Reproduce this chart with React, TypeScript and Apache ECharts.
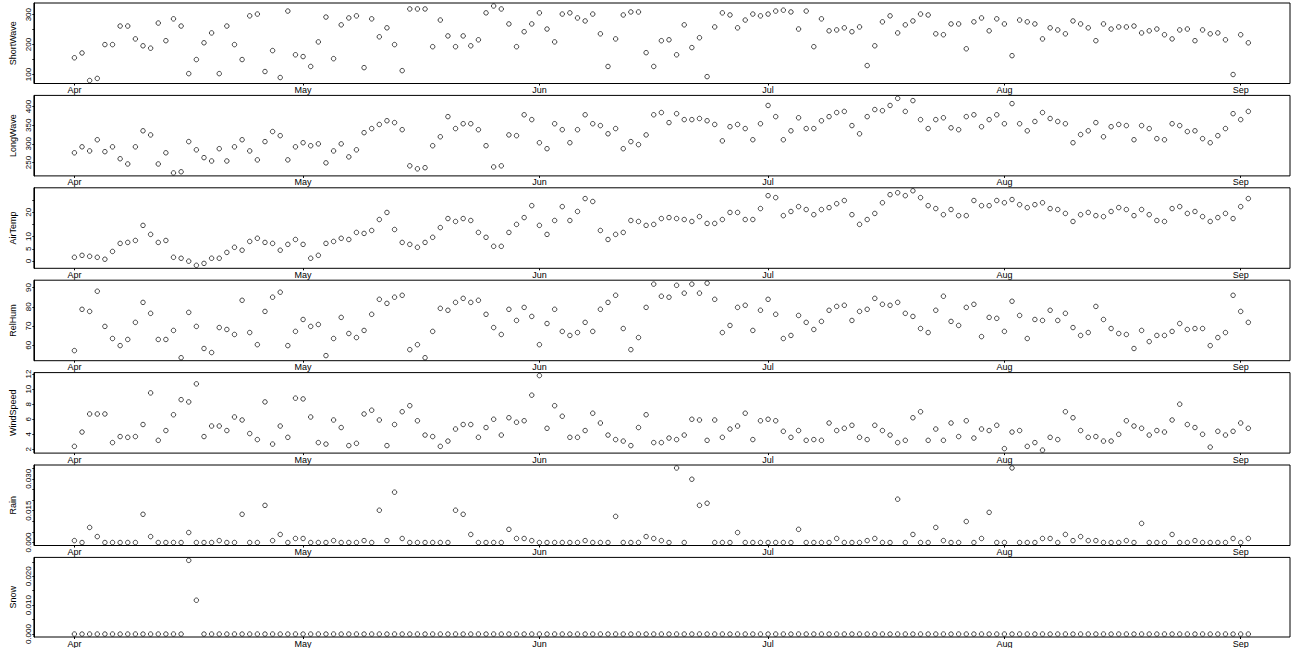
import React, { useEffect, useRef } from "react";
import * as echarts from "echarts";

// Daily observations, 1 Apr .. 2 Sep (155 days)
const startYear = 2000;
const startMonth = 3; // April (0-based)
const startDay = 1;
const dayCount = 155;
const monthNames = ["Jan", "Feb", "Mar", "Apr", "May", "Jun", "Jul", "Aug", "Sep", "Oct", "Nov", "Dec"];

const shortWave = [
  156, 172, 80, 87, 200, 200, 262, 262, 219, 196, 188, 272, 213, 286, 262, 103, 150, 206, 239, 103, 262, 200, 150, 296, 302, 110, 180, 90, 312, 166,
  160, 127, 209, 292, 153, 266, 289, 296, 123, 286, 226, 256, 200, 113, 319, 319, 319, 193, 282, 229, 193, 229, 196, 216, 306, 329, 319, 269, 193, 243, 269,
  306, 252, 209, 302, 306, 289, 279, 302, 236, 127, 219, 299, 309, 309, 173, 127, 213, 216, 166, 266, 190, 223, 93, 259, 306, 299, 256, 282, 302, 296,
  302, 312, 315, 309, 252, 312, 193, 286, 246, 249, 256, 243, 259, 130, 196, 276, 296, 239, 266, 279, 302, 299, 236, 233, 269, 269, 186, 276, 289, 246, 286,
  269, 163, 282, 276, 269, 219, 256, 249, 236, 279, 269, 256, 213, 269, 252, 259, 259, 262, 239, 246, 252, 233, 219, 249, 252, 213, 249, 236, 239, 216, 100,
  233, 206,
];

const longWave = [
  276, 292, 281, 311, 279, 292, 260, 246, 292, 335, 324, 246, 276, 222, 225, 306, 284, 263, 254, 287, 254, 292, 311, 281, 257, 306, 333, 322, 257, 292,
  303, 295, 300, 249, 281, 300, 265, 284, 330, 341, 352, 362, 357, 338, 241, 233, 236, 295, 319, 373, 341, 354, 354, 338, 295, 238, 241, 324, 322, 378, 365,
  303, 287, 354, 338, 303, 338, 378, 354, 349, 327, 341, 287, 306, 298, 324, 378, 384, 357, 381, 365, 365, 368, 362, 352, 308, 346, 352, 341, 311, 354,
  403, 373, 311, 335, 370, 341, 341, 362, 373, 384, 387, 349, 327, 373, 392, 389, 403, 422, 387, 416, 365, 341, 365, 370, 343, 338, 373, 378, 346, 365, 378,
  354, 408, 354, 335, 360, 384, 368, 360, 354, 303, 325, 335, 357, 319, 346, 352, 349, 311, 349, 341, 314, 311, 354, 349, 333, 335, 314, 303, 322, 341, 381,
  365, 387,
];

const airTemp = [
  1.5, 2.3, 1.9, 1.5, 0.7, 3.9, 7.2, 7.6, 8.4, 14.6, 10.9, 7.6, 8.4, 1.5, 1.1, -0.1, -1.8, -1.0, 1.1, 1.1, 3.5, 5.6, 4.4, 8.0, 9.3, 7.6, 7.2, 4.4, 6.8, 8.8,
  6.8, 1.1, 2.3, 7.2, 8.0, 9.3, 8.8, 11.7, 11.3, 12.5, 17.0, 19.9, 12.9, 7.6, 6.8, 5.6, 7.6, 9.7, 13.7, 17.4, 16.2, 17.4, 16.6, 11.7, 9.7, 6.0, 6.0, 11.7, 15.0, 17.8, 22.7,
  14.6, 10.9, 16.6, 22.3, 16.6, 20.3, 25.6, 24.4, 12.5, 8.8, 10.9, 11.7, 16.6, 16.2, 14.6, 15.0, 17.4, 17.8, 17.4, 17.0, 16.2, 18.2, 15.4, 15.4, 17.0, 19.9, 19.9, 17.0, 17.0, 21.5,
  26.8, 26.0, 18.6, 20.3, 22.3, 21.1, 19.0, 21.1, 21.9, 23.5, 24.8, 19.0, 15.0, 17.0, 19.5, 23.9, 27.2, 28.0, 26.8, 28.8, 26.0, 22.7, 21.5, 19.0, 21.1, 18.6, 18.6, 24.8, 22.7, 22.7, 24.8,
  23.9, 25.2, 23.1, 21.9, 23.1, 23.9, 21.5, 21.1, 19.5, 16.2, 19.0, 19.9, 18.6, 18.2, 20.3, 21.9, 21.1, 18.6, 21.1, 19.0, 16.6, 16.2, 21.5, 22.3, 19.5, 20.3, 18.2, 16.2, 17.8, 19.5, 17.4,
  22.3, 25.6,
];

const relHum = [
  57.2, 78.7, 77.6, 88.1, 69.8, 63.5, 59.8, 63.0, 71.9, 82.3, 76.6, 63.0, 63.0, 67.7, 53.5, 77.1, 69.8, 58.3, 56.2, 69.2, 68.2, 65.6, 83.4, 66.6, 60.3, 77.6, 85.0, 87.6, 59.8, 67.2,
  73.4, 69.8, 70.8, 54.6, 63.5, 74.5, 66.1, 64.0, 67.7, 76.1, 83.9, 81.8, 85.0, 86.0, 57.7, 60.3, 53.5, 67.2, 79.2, 78.2, 82.3, 84.4, 82.3, 83.4, 76.1, 69.2, 65.6, 78.7, 72.9, 79.7, 75.0,
  60.3, 71.3, 78.7, 67.2, 65.1, 66.6, 71.9, 67.2, 78.7, 82.3, 86.0, 68.7, 57.7, 64.0, 79.7, 91.8, 85.5, 85.0, 91.2, 87.1, 91.8, 87.1, 92.3, 83.9, 66.6, 70.3, 79.7, 80.8, 67.7, 78.2,
  83.9, 76.1, 63.5, 65.1, 75.5, 71.9, 68.2, 72.4, 78.2, 80.2, 80.8, 72.9, 77.6, 78.7, 84.4, 81.3, 80.8, 82.3, 76.6, 75.0, 68.7, 66.6, 78.2, 85.5, 72.4, 70.3, 79.7, 81.3, 64.5, 74.5, 74.0,
  67.2, 82.9, 75.5, 63.5, 73.4, 72.9, 78.2, 72.9, 76.6, 69.2, 65.1, 66.6, 80.2, 73.4, 68.7, 66.1, 65.6, 58.3, 67.7, 61.9, 65.1, 65.1, 67.2, 71.3, 68.2, 68.7, 68.7, 59.8, 64.0, 66.6, 86.0,
  77.6, 71.9,
];

const windSpeed = [
  2.4, 4.3, 6.7, 6.7, 6.7, 2.9, 3.7, 3.6, 3.7, 5.3, 9.5, 3.2, 4.5, 6.6, 8.6, 8.3, 10.7, 3.7, 5.1, 5.1, 4.5, 6.3, 5.9, 4.1, 3.3, 8.3, 2.7, 5.1, 3.6, 8.8,
  8.7, 6.3, 2.9, 2.7, 5.9, 4.9, 2.5, 2.8, 6.7, 7.2, 5.9, 2.5, 5.3, 7.0, 7.8, 5.8, 3.9, 3.7, 2.4, 3.1, 4.7, 5.3, 5.3, 3.6, 4.9, 6.0, 3.9, 6.2, 5.6, 5.8, 9.2,
  11.8, 4.8, 7.8, 6.4, 3.6, 3.6, 4.5, 6.8, 5.5, 3.9, 3.3, 3.1, 2.5, 4.9, 6.6, 2.9, 2.9, 3.5, 3.3, 3.9, 6.0, 5.9, 3.2, 5.9, 3.6, 4.7, 5.1, 6.8, 3.3, 5.8,
  6.0, 5.8, 4.4, 3.6, 4.5, 3.2, 3.3, 3.2, 5.5, 4.5, 4.8, 5.2, 3.6, 3.3, 5.2, 4.5, 3.9, 2.9, 3.2, 6.2, 7.0, 3.2, 4.7, 3.2, 5.5, 3.7, 5.8, 3.5, 4.7, 4.5, 5.2,
  2.1, 4.3, 4.5, 2.4, 2.9, 1.9, 3.6, 3.3, 7.0, 6.2, 4.5, 3.6, 3.7, 3.1, 3.1, 4.0, 5.8, 5.1, 4.8, 3.9, 4.5, 4.3, 5.9, 8.0, 5.3, 4.9, 4.0, 2.3, 4.4, 3.9, 4.4,
  5.5, 4.8,
];

const rain = [
  0.0009, 0, 0.0071, 0.0028, 0, 0, 0, 0, 0, 0.0133, 0.0028, 0, 0, 0, 0, 0.0047, 0, 0, 0, 0.0009, 0, 0, 0.0133, 0, 0, 0.0175, 0.0009, 0.0038, 0, 0.0019,
  0.0019, 0, 0, 0, 0.0009, 0, 0, 0, 0.0009, 0, 0.0152, 0.0009, 0.0237, 0.0019, 0, 0, 0, 0, 0, 0, 0.0152, 0.0133, 0.0038, 0, 0, 0, 0, 0.0062, 0.0019, 0.0019, 0.0009,
  0, 0, 0, 0, 0, 0, 0.0009, 0, 0, 0, 0.0123, 0, 0, 0, 0.0028, 0.0019, 0.0009, 0, 0.0351, 0, 0.0298, 0.0175, 0.0185, 0, 0, 0, 0.0047, 0, 0, 0,
  0, 0, 0, 0, 0.0062, 0, 0, 0, 0, 0.0019, 0, 0, 0, 0.0009, 0.0019, 0, 0, 0.0204, 0, 0.0038, 0, 0, 0.0071, 0.0009, 0, 0, 0.0099, 0, 0.0019, 0.0142, 0,
  0, 0.0351, 0, 0, 0, 0.0019, 0.0019, 0, 0.0038, 0.0009, 0.0028, 0.0009, 0.0009, 0, 0, 0, 0.0009, 0, 0.009, 0, 0, 0, 0.0038, 0, 0, 0.0009, 0, 0, 0, 0, 0.0019,
  0, 0.0019,
];

const snow = [
  0, 0, 0, 0, 0, 0, 0, 0, 0, 0, 0, 0, 0, 0, 0, 0.0255, 0.0117, 0, 0, 0, 0, 0, 0, 0, 0, 0, 0, 0, 0, 0,
  0, 0, 0, 0, 0, 0, 0, 0, 0, 0, 0, 0, 0, 0, 0, 0, 0, 0, 0, 0, 0, 0, 0, 0, 0, 0, 0, 0, 0, 0, 0,
  0, 0, 0, 0, 0, 0, 0, 0, 0, 0, 0, 0, 0, 0, 0, 0, 0, 0, 0, 0, 0, 0, 0, 0, 0, 0, 0, 0, 0, 0,
  0, 0, 0, 0, 0, 0, 0, 0, 0, 0, 0, 0, 0, 0, 0, 0, 0, 0, 0, 0, 0, 0, 0, 0, 0, 0, 0, 0, 0, 0, 0,
  0, 0, 0, 0, 0, 0, 0, 0, 0, 0, 0, 0, 0, 0, 0, 0, 0, 0, 0, 0, 0, 0, 0, 0, 0, 0, 0, 0, 0, 0, 0,
  0, 0,
];

const panelNames = ["ShortWave", "LongWave", "AirTemp", "RelHum", "WindSpeed", "Rain", "Snow"];
const panelSeries = [shortWave, longWave, airTemp, relHum, windSpeed, rain, snow];
const panelTicks = [
  [100, 150, 200, 250, 300],
  [250, 300, 350, 400],
  [0, 5, 10, 15, 20, 25],
  [60, 70, 80, 90],
  [2, 4, 6, 8, 10, 12],
  [0, 0.005, 0.01, 0.015, 0.02, 0.025, 0.03, 0.035],
  [0, 0.005, 0.01, 0.015, 0.02, 0.025],
];
const panelLabels = [
  [100, 200, 300],
  [250, 300, 350, 400],
  [0, 5, 10, 20],
  [60, 70, 80, 90],
  [2, 4, 6, 8, 10, 12],
  [0, 0.015, 0.03],
  [0, 0.01, 0.02],
];
const panelDecimals = [0, 0, 0, 0, 0, 3, 3];

const FONT = "'Liberation Sans', Arial, sans-serif";

function buildDates() {
  const out: Date[] = [];
  for (let i = 0; i < dayCount; i++) out.push(new Date(startYear, startMonth, startDay + i));
  return out;
}

export default function App() {
  const ref = useRef<HTMLDivElement>(null);

  useEffect(() => {
    if (!ref.current) return;
    const chart = echarts.init(ref.current, undefined, { renderer: "svg" });
    const dates = buildDates();
    const monthTicks: number[] = [];
    dates.forEach((d, i) => {
      if (d.getDate() === 1) monthTicks.push(i);
    });
    const n = dates.length - 1;
    const xMin = -0.0345 * n;
    const xMax = n * 1.0355;

    const grids: any[] = [];
    const xAxes: any[] = [];
    const yAxes: any[] = [];
    const series: any[] = [];

    panelSeries.forEach((vals, p) => {
      const dmin = Math.min(...vals);
      const dmax = Math.max(...vals);
      const ext = (dmax - dmin) * 0.04;
      grids.push({
        left: 28,
        right: 6,
        top: 3 + 92.4 * p,
        height: 80.5,
        show: true,
        borderColor: "#000",
        borderWidth: 1,
        backgroundColor: "transparent",
      });
      xAxes.push({
        gridIndex: p,
        type: "value",
        position: "bottom",
        min: xMin,
        max: xMax,
        axisLine: { show: false, onZero: false },
        splitLine: { show: false },
        axisTick: { show: true, customValues: monthTicks, length: 2, lineStyle: { color: "#000" } },
        axisLabel: {
          customValues: monthTicks,
          color: "#000",
          fontSize: 9,
          fontFamily: FONT,
          margin: 2,
          formatter: (v: number) => {
            const d = dates[Math.round(v)];
            return d ? monthNames[d.getMonth()] : "";
          },
        },
      });
      const labels = panelLabels[p];
      yAxes.push({
        gridIndex: p,
        type: "value",
        position: "left",
        min: dmin - ext,
        max: dmax + ext,
        name: panelNames[p],
        nameLocation: "middle",
        nameGap: 12,
        nameTextStyle: { color: "#000", fontSize: 9, fontFamily: FONT },
        axisLine: { show: true, onZero: false, lineStyle: { color: "#000", width: 1 } },
        splitLine: { show: false },
        axisTick: { show: true, customValues: panelTicks[p], length: 1.5, lineStyle: { color: "#000" } },
        axisLabel: {
          customValues: labels,
          rotate: 90,
          color: "#000",
          fontSize: 8,
          fontFamily: FONT,
          margin: 1,
          formatter: (v: number) => v.toFixed(panelDecimals[p]),
        },
      });
      series.push({
        type: "scatter",
        xAxisIndex: p,
        yAxisIndex: p,
        symbol: "circle",
        symbolSize: 4.5,
        itemStyle: { color: "rgba(0,0,0,0)", borderColor: "#000", borderWidth: 0.9 },
        data: vals.map((v, i) => [i, v]),
        silent: true,
      });
    });

    chart.setOption({
      animation: false,
      backgroundColor: "#fff",
      textStyle: { fontFamily: FONT },
      grid: grids,
      xAxis: xAxes,
      yAxis: yAxes,
      series,
    });
    return () => chart.dispose();
  }, []);

  return (
    <div
      ref={ref}
      style={{ position: "absolute", left: 0, top: 0, width: 1296, height: 648 }}
    />
  );
}
